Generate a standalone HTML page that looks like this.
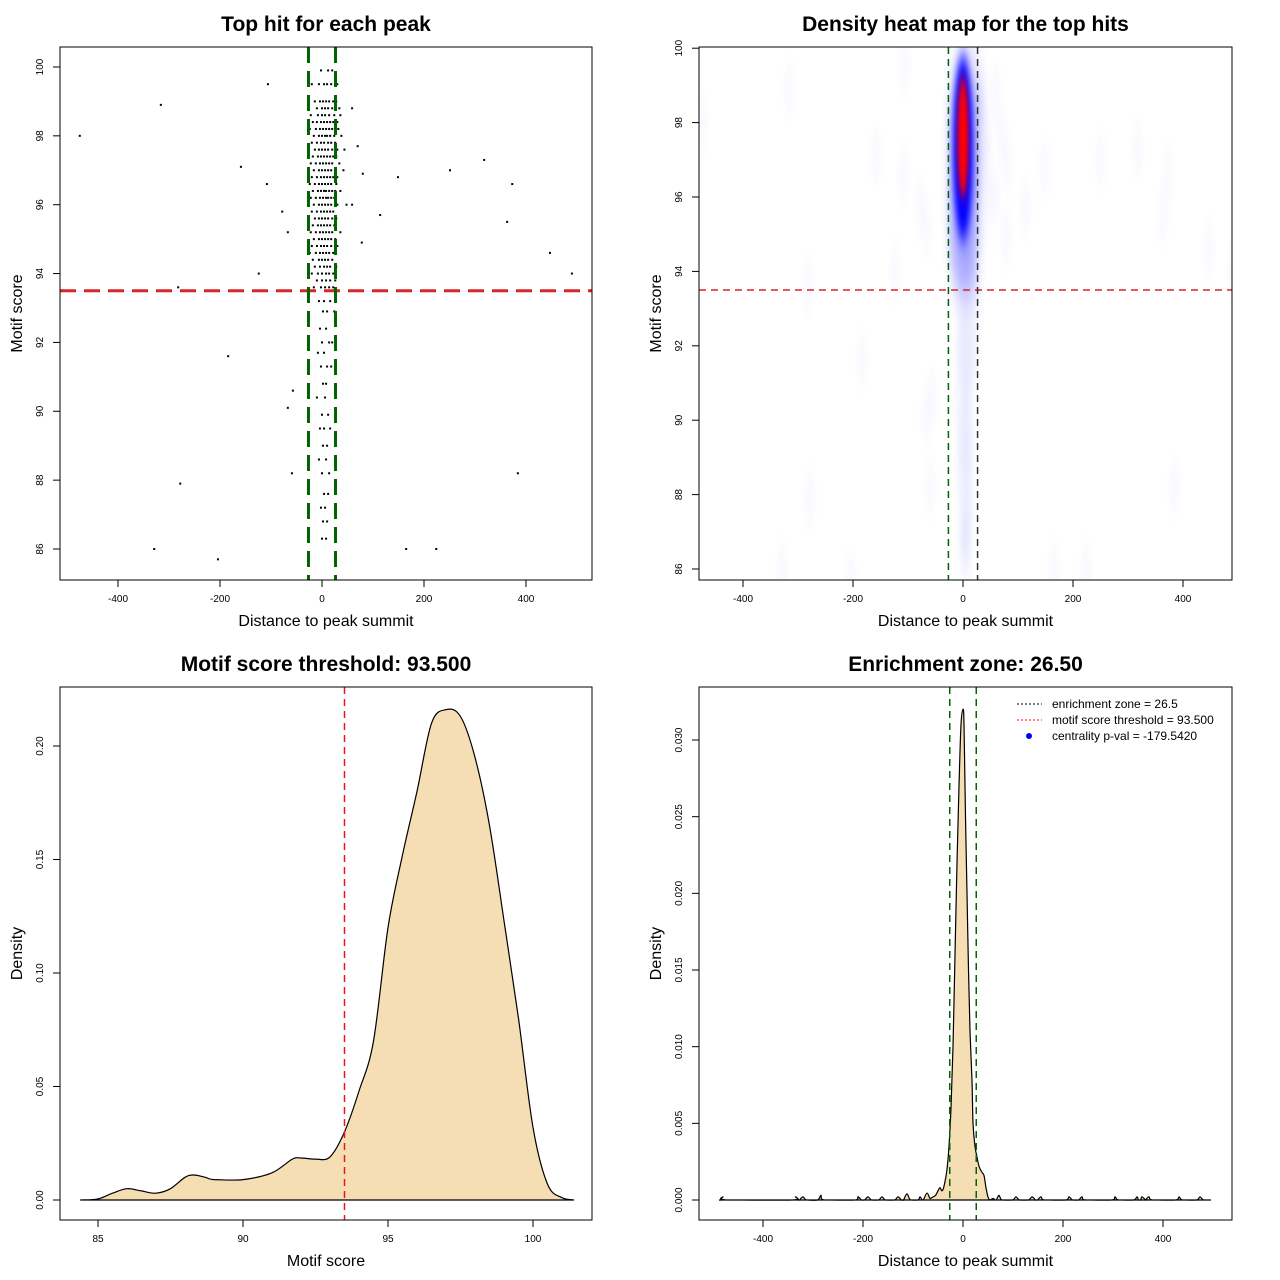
<!DOCTYPE html>
<html><head><meta charset="utf-8"><title>Motif centrality plots</title>
<style>
html,body{margin:0;padding:0;background:#fff;}
svg{display:block;font-family:"Liberation Sans",Arial,sans-serif;}
</style></head>
<body>
<svg id="root" width="1280" height="1280" viewBox="0 0 1280 1280" xmlns="http://www.w3.org/2000/svg">
<defs>
<filter id="blurS" x="-200%" y="-50%" width="500%" height="200%"><feGaussianBlur stdDeviation="2.5 10"/></filter>
<filter id="blurC" x="-200%" y="-50%" width="500%" height="200%"><feGaussianBlur stdDeviation="4 14"/></filter>
<filter id="blurB" x="-200%" y="-50%" width="500%" height="200%"><feGaussianBlur stdDeviation="3 10"/></filter>
<filter id="blurR" x="-200%" y="-50%" width="500%" height="200%"><feGaussianBlur stdDeviation="2 7"/></filter>
<clipPath id="clip2"><rect x="699" y="47" width="533" height="533"/></clipPath>
</defs>
</svg>
<script>
// ---- data ----
var outX = [-475,-316,-159,-106,-108,-78,-67,-124,-282,-184,-67,-57,-59,-278,-329,-204,165,224,384,490,447,363,373,318,251,149,114,78,59,80,70,59];
var outY = [98.0,98.9,97.1,99.5,96.6,95.8,95.2,94.0,93.6,91.6,90.1,90.6,88.2,87.9,86.0,85.7,86.0,86.0,88.2,94.0,94.6,95.5,96.6,97.3,97.0,96.8,95.7,94.9,96.0,96.9,97.7,98.8];
var rowScores = [99.9,99.5,99.0,98.8,98.6,98.4,98.2,98.0,97.8,97.6,97.4,97.2,97.0,96.8,96.6,96.4,96.2,96.0,95.8,95.6,95.4,95.2,95.0,94.8,94.6,94.4,94.2,94.0,93.8,93.6,93.2,92.9,92.4,92.0,91.7,91.3,90.8,90.4,89.9,89.5,89.0,88.6,88.2,87.6,87.2,86.8,86.3];
var rowDists = [
[-2,12,20],[-20,-6,4,10,18,30],[-14,-4,2,8,14,22,28],[-10,0,6,12,20,34],[-22,-8,0,6,14,24,36],
[-18,-10,-2,4,10,16,22,30],[-24,-12,-4,2,8,14,20,26,32],[-16,-6,0,6,10,16,24,38],[-20,-10,-2,4,12,18,26],[-26,-14,-6,0,6,12,20,30,44],
[-18,-8,-2,4,10,16,22,28],[-22,-12,-4,2,8,14,20,34],[-16,-6,0,6,12,18,26,42],[-20,-10,-2,4,10,16,22,30],[-24,-14,-6,0,6,12,18,28],
[-18,-8,-2,4,8,14,20,26,36],[-22,-12,-4,2,8,12,18,24],[-16,-6,0,6,12,18,30,48],[-20,-10,-2,4,10,16,22],[-26,-14,-6,0,6,12,20,28],
[-18,-8,-2,4,10,16,24],[-22,-12,-4,2,8,14,20,36],[-16,-6,0,6,12,18,26],[-20,-10,-2,4,10,18,30],[-24,-12,-4,2,8,14,22],
[-18,-6,0,6,12,20],[-14,-4,4,10,16,28],[-20,-8,0,8,14,22],[-10,0,8,16,26],[-16,-2,6,14,22],
[-6,4,16],[2,10,24],[-4,8],[0,14,20],[-8,4],[-2,10,18],[2,8],[-10,6],[0,12],[-4,4,16],[2,10],[-6,8],[0,14],[4,12],[-2,6],[2,10],[0,8]
];
// heat map core centers (score of blue core, score of red core)
var coreScore = [97.3, 97.6];
var dsX = [84.4,85,85.5,86,86.5,87,87.5,88,88.3,88.7,89,90,91,91.7,92,92.5,93,93.5,94,94.5,95,95.5,96,96.5,97,97.5,98,98.5,99,99.5,100,100.5,101,101.4];
var dsY = [0,0.0005,0.003,0.005,0.004,0.003,0.005,0.01,0.011,0.01,0.009,0.009,0.012,0.018,0.0185,0.018,0.019,0.03,0.048,0.07,0.12,0.152,0.18,0.21,0.216,0.213,0.195,0.165,0.123,0.08,0.032,0.007,0.001,0];
var ddX = [-90,-86,-80,-72,-66,-60,-55,-50,-46,-42,-38,-32,-28,-24,-20,-16,-12,-8,-4,0,2,5,8,11,14,18,20,24,28,32,38,42,46,50,54,60,66,72,78];
var ddY = [0,0.0002,0,0.00045,0.0001,0.0002,0.0003,0.0006,0.0008,0.0006,0.0009,0.002,0.0035,0.006,0.01,0.016,0.022,0.027,0.031,0.032,0.031,0.025,0.02,0.015,0.011,0.0078,0.005,0.0035,0.0028,0.0022,0.0018,0.0016,0.0008,0.0002,0,0.0001,0,0.0003,0];
var bumpX = [-480,-335,-320,-284,-210,-190,-162,-130,-112,106,138,156,212,238,304,348,358,372,432,474];
var bumpH = [0.0002,0.0002,0.0002,0.0003,0.0002,0.0002,0.0002,0.0002,0.0004,0.0002,0.0002,0.0002,0.0002,0.0002,0.0002,0.0002,0.0002,0.0002,0.0002,0.0002];
var xTicksDist = [-400,-200,0,200,400];
var yTicksScore = [86,88,90,92,94,96,98,100];
var xTicksScore = [85,90,95,100];
var yTicksDs = [0,0.05,0.10,0.15,0.20];
var yTicksDd = [0,0.005,0.010,0.015,0.020,0.025,0.030];
var scoreThreshold = 93.5;
var zone = 26.5;

// ---- helpers ----
var NS = 'http://www.w3.org/2000/svg';
var root = document.getElementById('root');
function mk(tag, attrs, parent, txt){
  var e = document.createElementNS(NS, tag);
  for (var k in attrs) e.setAttribute(k, attrs[k]);
  if (txt !== undefined) e.textContent = txt;
  (parent || root).appendChild(e);
  return e;
}
function smooth(p){
  var d = '';
  for (var i=0;i<p.length-1;i++){
    var p0 = p[Math.max(i-1,0)], p1 = p[i], p2 = p[i+1], p3 = p[Math.min(i+2,p.length-1)];
    var c1x = p1[0] + (p2[0]-p0[0])/6, c1y = p1[1] + (p2[1]-p0[1])/6;
    var c2x = p2[0] - (p3[0]-p1[0])/6, c2y = p2[1] - (p3[1]-p1[1])/6;
    c1y = Math.min(c1y, Math.max(p1[1],p2[1]) + 0); 
    d += ' C' + c1x.toFixed(1)+' '+c1y.toFixed(1)+' '+c2x.toFixed(1)+' '+c2y.toFixed(1)+' '+p2[0].toFixed(1)+' '+p2[1].toFixed(1);
  }
  return d;
}
function panel(name, box, sx, sy, xt, yt, xfmt, yfmt, title, xlab, ylab){
  var g = mk('g', {});
  
  
  var t = mk('text', {x: box.x + box.w/2, y: box.y - 16, 'text-anchor':'middle', 'font-size':21, 'font-weight':'bold'}, g, title);
  
  
  var xa = mk('g', {}, g);
  
  
  xt.forEach(function(v){
    var px = sx(v);
    mk('line', {x1:px, x2:px, y1:box.y+box.h, y2:box.y+box.h+7, stroke:'#000'}, xa);
    var l = mk('text', {x:px, y:box.y+box.h+22, 'text-anchor':'middle', 'font-size':10}, xa, xfmt(v));
    
    
  });
  var ya = mk('g', {}, g);
  
  
  yt.forEach(function(v){
    var py = sy(v);
    mk('line', {x1:box.x-7, x2:box.x, y1:py, y2:py, stroke:'#000'}, ya);
    var l = mk('text', {x:box.x-17, y:py, 'text-anchor':'middle', 'font-size':10, transform:'rotate(-90 '+(box.x-17)+' '+py+')'}, ya, yfmt(v));
    
    
  });
  var xl = mk('text', {x: box.x + box.w/2, y: box.y+box.h+46, 'text-anchor':'middle', 'font-size':16}, g, xlab);
  
  
  var yx = box.x - 38, yy = box.y + box.h/2;
  var yl = mk('text', {x: yx, y: yy, 'text-anchor':'middle', 'font-size':16, transform:'rotate(-90 '+yx+' '+yy+')'}, g, ylab);
  
  
  return g;
}
function frame(g, box){
  var r = mk('rect', {x:box.x, y:box.y, width:box.w, height:box.h, fill:'none', stroke:'#000', 'stroke-width':1}, g);
  
  
}
function fmtInt(v){ return String(v); }
function fmt2(v){ return v.toFixed(2); }
function fmt3(v){ return v.toFixed(3); }

var allX = outX.slice(), allY = outY.slice();
rowScores.forEach(function(s, i){ rowDists[i].forEach(function(d){ allX.push(d); allY.push(s); }); });

// ---- Panel 1 ----
(function(){
  var box = {x:60, y:47, w:532, h:533};
  var sx = function(v){ return 322 + 0.51*v; };
  var sy = function(v){ return 549 - 34.43*(v-86); };
  var g = panel('top-hit-scatter', box, sx, sy, xTicksDist, yTicksScore, fmtInt, fmtInt, 'Top hit for each peak', 'Distance to peak summit', 'Motif score');
  var pts = mk('g', {}, g);
  
  
  for (var i=0;i<allX.length;i++){
    var c = mk('rect', {x:sx(allX[i])-1, y:sy(allY[i])-1, width:2, height:2, fill:'#000'}, pts);
    
    
  }
  var h = mk('line', {x1:box.x, x2:box.x+box.w, y1:sy(scoreThreshold), y2:sy(scoreThreshold), stroke:'#d62728', 'stroke-width':3, 'stroke-dasharray':'16 8'}, g);
  
  
  [-zone, zone].forEach(function(z){
    var l = mk('line', {x1:sx(z), x2:sx(z), y1:box.y, y2:box.y+box.h, stroke:'#006400', 'stroke-width':3, 'stroke-dasharray':'16 8'}, g);
    
    
  });
  frame(g, box);
})();

// ---- Panel 2 ----
(function(){
  var box = {x:699, y:47, w:533, h:533};
  var sx = function(v){ return 963 + 0.55*v; };
  var sy = function(v){ return 569 - 37.2*(v-86); };
  var g = panel('density-heatmap', box, sx, sy, xTicksDist, yTicksScore, fmtInt, fmtInt, 'Density heat map for the top hits', 'Distance to peak summit', 'Motif score');
  var hm = mk('g', {'clip-path':'url(#clip2)'}, g);
  
  
  var soft = mk('g', {filter:'url(#blurS)'}, hm);
  for (var i=0;i<allX.length;i++){
    var e = mk('ellipse', {cx:sx(allX[i]), cy:sy(allY[i]), rx:5, ry:26, fill:'#3030ff', 'fill-opacity':0.025}, soft);
    
    
  }
  var core = mk('g', {filter:'url(#blurC)'}, hm);
  var halo = mk('ellipse', {cx:sx(0), cy:sy(96.6), rx:15, ry:120, fill:'#7070ff', 'fill-opacity':0.3}, core);
  
  
  var bg = mk('g', {filter:'url(#blurB)'}, hm);
  var blue = mk('ellipse', {cx:sx(0), cy:sy(coreScore[0]), rx:10, ry:92, fill:'#0000ff'}, bg);
  
  
  var rg = mk('g', {filter:'url(#blurR)'}, hm);
  var red = mk('ellipse', {cx:sx(0), cy:sy(coreScore[1]), rx:5.5, ry:60, fill:'#ff0000'}, rg);
  
  
  var h = mk('line', {x1:box.x, x2:box.x+box.w, y1:sy(scoreThreshold), y2:sy(scoreThreshold), stroke:'#d62728', 'stroke-width':1.5, 'stroke-dasharray':'7 5'}, g);
  
  
  var l1 = mk('line', {x1:sx(-zone), x2:sx(-zone), y1:box.y, y2:box.y+box.h, stroke:'#006400', 'stroke-width':1.5, 'stroke-dasharray':'7 5'}, g);
  
  
  var l2 = mk('line', {x1:sx(zone), x2:sx(zone), y1:box.y, y2:box.y+box.h, stroke:'#333', 'stroke-width':1.5, 'stroke-dasharray':'7 5'}, g);
  
  
  frame(g, box);
})();

// ---- Panel 3 ----
(function(){
  var box = {x:60, y:687, w:532, h:533};
  var sx = function(v){ return 98 + 29*(v-85); };
  var sy = function(v){ return 1200 - 2270*v; };
  var g = panel('score-density', box, sx, sy, xTicksScore, yTicksDs, fmtInt, fmt2, 'Motif score threshold: 93.500', 'Motif score', 'Density');
  var p = [];
  for (var i=0;i<dsX.length;i++) p.push([sx(dsX[i]), sy(dsY[i])]);
  var d = 'M' + p[0][0].toFixed(1) + ' ' + p[0][1].toFixed(1) + smooth(p) + ' Z';
  var a = mk('path', {d:d, fill:'#F5DEB3', stroke:'#000', 'stroke-width':1.2, 'stroke-linejoin':'round'}, g);
  
  
  var v = mk('line', {x1:sx(scoreThreshold), x2:sx(scoreThreshold), y1:box.y, y2:box.y+box.h, stroke:'#e8161b', 'stroke-width':1.5, 'stroke-dasharray':'7 5'}, g);
  
  
  frame(g, box);
})();

// ---- Panel 4 ----
(function(){
  var box = {x:699, y:687, w:533, h:533};
  var sx = function(v){ return 963 + 0.5*v; };
  var sy = function(v){ return 1200 - 15333*v; };
  var g = panel('distance-density', box, sx, sy, xTicksDist, yTicksDd, fmtInt, fmt3, 'Enrichment zone: 26.50', 'Distance to peak summit', 'Density');
  var pts = [];
  for (var i=0;i<ddX.length;i++) pts.push([ddX[i], ddY[i]]);
  for (var j=0;j<bumpX.length;j++){ pts.push([bumpX[j]-7,0]); pts.push([bumpX[j],bumpH[j]]); pts.push([bumpX[j]+7,0]); }
  pts.push([-485,0]); pts.push([495,0]);
  pts.sort(function(a,b){ return a[0]-b[0]; });
  var p = pts.map(function(q){ return [sx(q[0]), sy(q[1])]; });
  var d = 'M' + p[0][0].toFixed(1) + ' ' + p[0][1].toFixed(1) + smooth(p) + ' Z';
  var a = mk('path', {d:d, fill:'#F5DEB3', stroke:'#000', 'stroke-width':1.2, 'stroke-linejoin':'round'}, g);
  
  
  [-zone, zone].forEach(function(z){
    var l = mk('line', {x1:sx(z), x2:sx(z), y1:box.y, y2:box.y+box.h, stroke:'#006400', 'stroke-width':1.5, 'stroke-dasharray':'7 5'}, g);
    
    
  });
  var lg = mk('g', {}, g);
  
  
  var labels = ['enrichment zone = 26.5', 'motif score threshold = 93.500', 'centrality p-val = -179.5420'];
  var cols = ['#000', '#ff0000', '#0000ff'];
  labels.forEach(function(lab, k){
    var yy = 704 + k*16;
    var it = mk('g', {}, lg);
    
    
    if (k < 2) mk('line', {x1:1017, x2:1042, y1:yy, y2:yy, stroke:cols[k], 'stroke-width':1, 'stroke-dasharray':'2 2'}, it);
    else mk('circle', {cx:1029, cy:yy, r:3, fill:cols[k]}, it);
    mk('text', {x:1052, y:yy+4, 'font-size':12}, it, lab);
  });
  frame(g, box);
})();
</script>
</body></html>
